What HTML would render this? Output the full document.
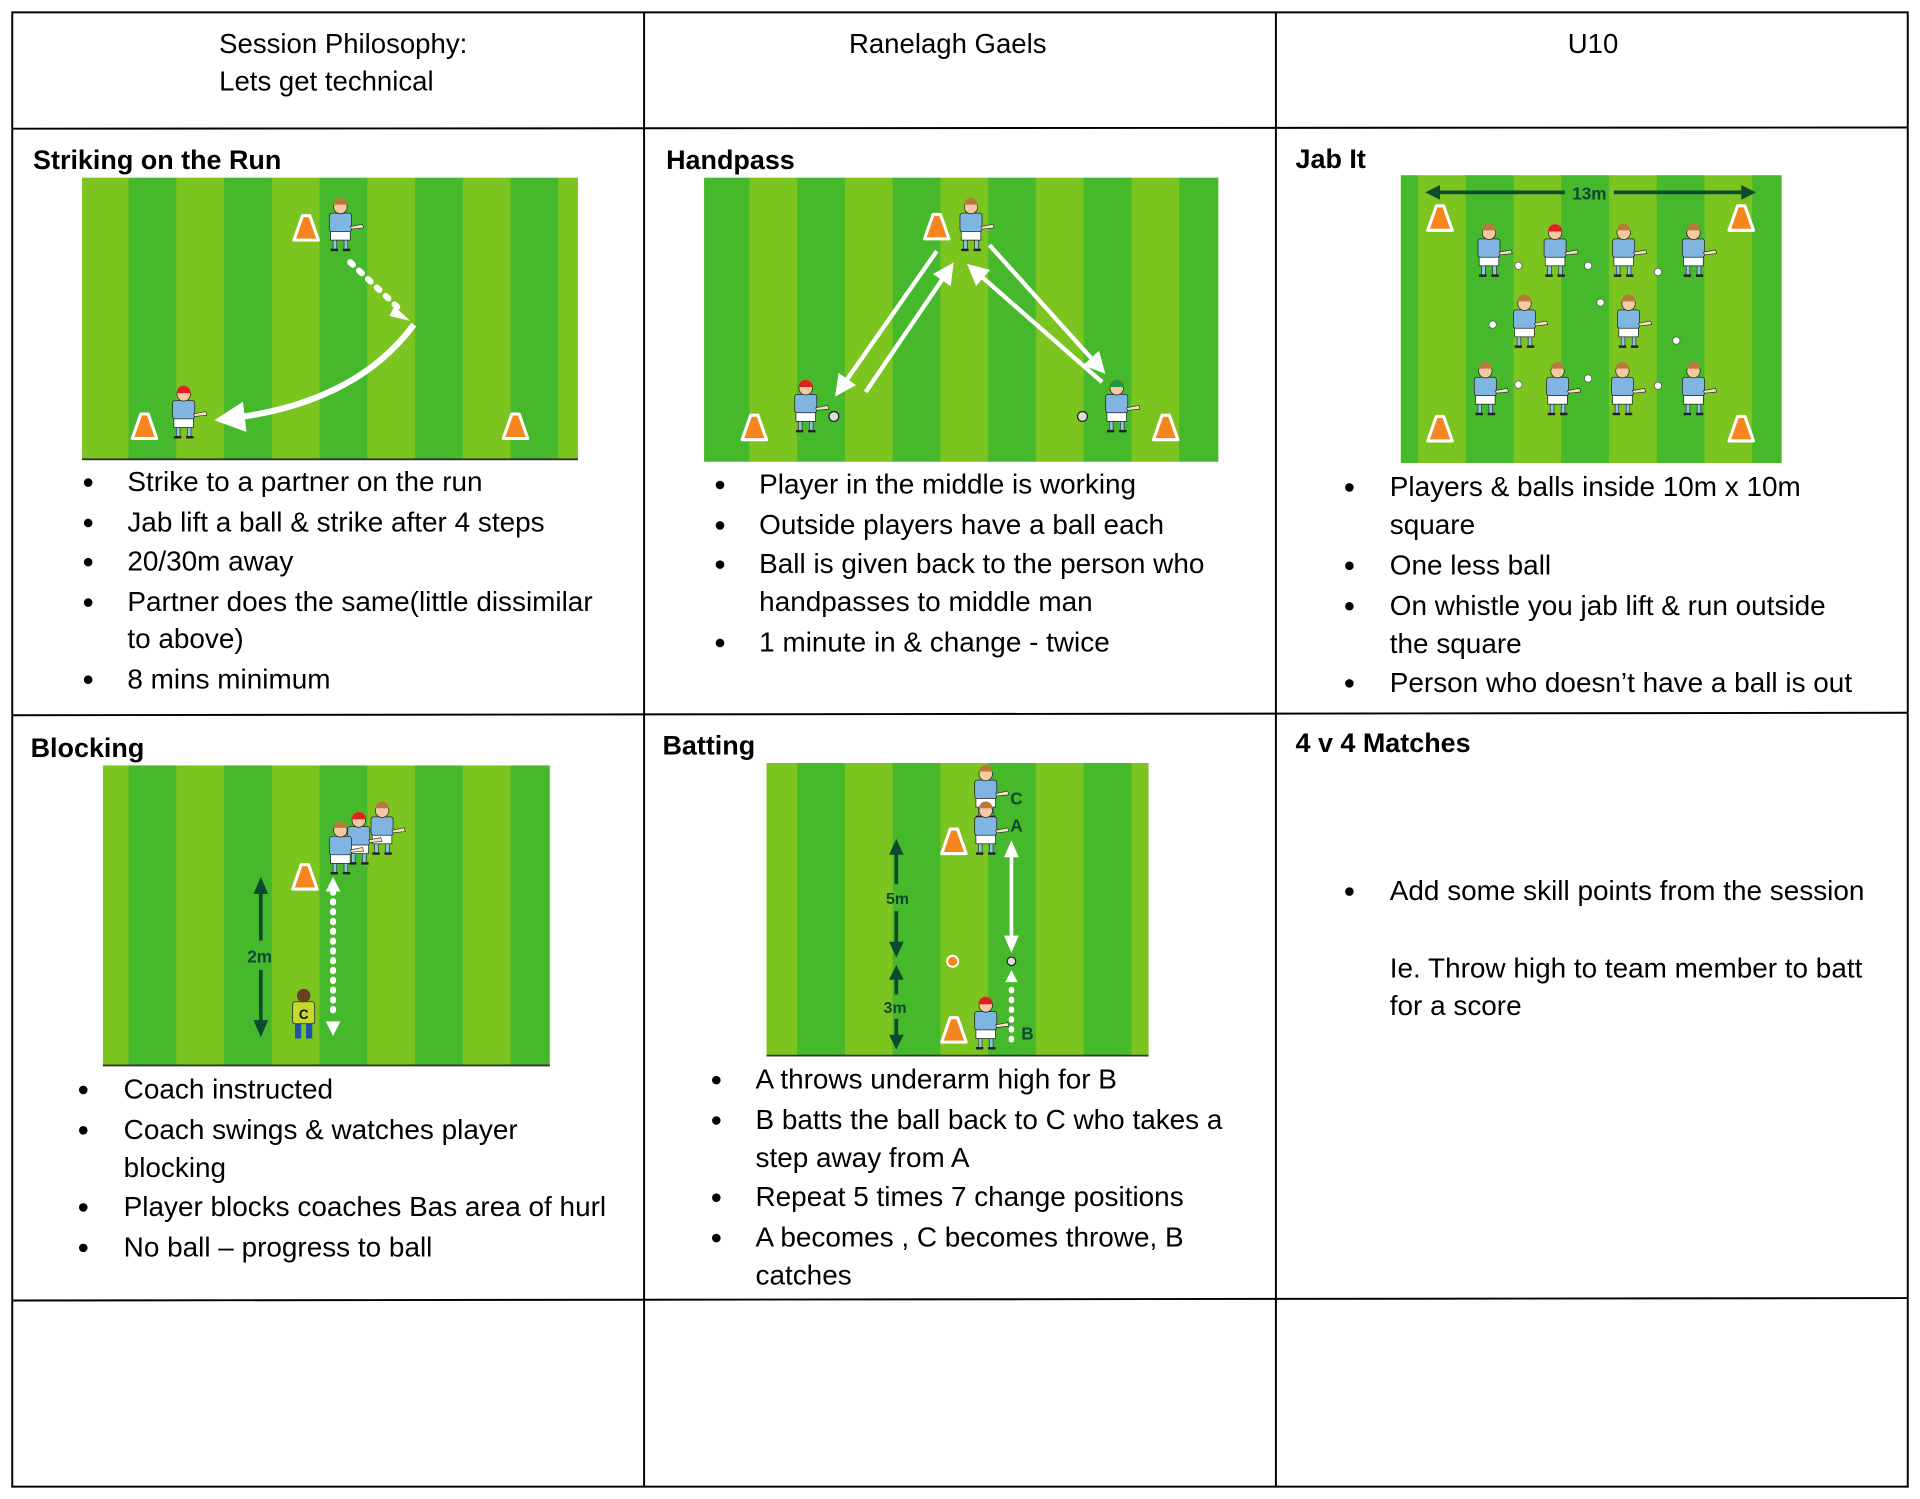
<!DOCTYPE html>
<html><head><meta charset="utf-8"><style>html,body{margin:0;padding:0;background:#fff}svg{display:block}</style></head>
<body>
<svg width="1920" height="1499" viewBox="0 0 1568 1224" xmlns="http://www.w3.org/2000/svg" font-family="Liberation Sans, sans-serif">
<defs>
<pattern id="st" width="78" height="10" patternUnits="userSpaceOnUse">
<rect width="78" height="10" fill="#7cc420"/><rect x="27" width="39" height="10" fill="#45b82b"/>
</pattern>
<g id="p">
<rect x="-6" y="-10" width="3" height="9" fill="#8fc3e6" stroke="#222" stroke-width="0.5"/>
<rect x="3" y="-10" width="3" height="9" fill="#8fc3e6" stroke="#222" stroke-width="0.5"/>
<rect x="-8" y="-2" width="6" height="2" fill="#222"/><rect x="2" y="-2" width="6" height="2" fill="#222"/>
<rect x="-8" y="-17" width="16" height="8" fill="#fff" stroke="#222" stroke-width="0.6"/>
<rect x="-9" y="-31" width="18" height="15" rx="2" fill="#7fb5e0" stroke="#222" stroke-width="0.6"/>
<circle cx="0" cy="-36" r="5.5" fill="#f2c9a0" stroke="#222" stroke-width="0.6"/>
<path d="M-5.5,-38 a5.5,5.5 0 0 1 11,0 z" fill="#b87a3a"/>
<path d="M8,-20 l10,-2 l1,3 l-10,1 z" fill="#f3e3c0" stroke="#222" stroke-width="0.5"/>
</g>
<g id="pr">
<use href="#p"/><path d="M-5.8,-37 a5.8,5.8 0 0 1 11.6,0 z" fill="#e02020"/>
</g>
<g id="pg">
<use href="#p"/><path d="M-5.8,-37 a5.8,5.8 0 0 1 11.6,0 z" fill="#1a9a40"/>
</g>
<g id="c"><polygon points="-10,0 10,0 3,-20 -3,-20" fill="#f5861f" stroke="#fff" stroke-width="2.5" stroke-linejoin="round"/></g>
<marker id="aw" markerWidth="5" markerHeight="5" refX="3" refY="2.5" orient="auto" markerUnits="strokeWidth"><path d="M0,0 L5,2.5 L0,5 z" fill="#fff"/></marker>
</defs>

<g stroke="#000" stroke-width="1.6" fill="none">
<rect x="10" y="10" width="1548" height="1204"/>
<line x1="526" y1="10" x2="526" y2="1214"/>
<line x1="1042" y1="10" x2="1042" y2="1214"/>
<line x1="10" y1="105" x2="1558" y2="104"/>
<line x1="10" y1="584" x2="1558" y2="582"/>
<line x1="10" y1="1062" x2="1558" y2="1060"/>
</g>

<g font-size="22.5" fill="#000">
<text x="179" y="43">Session Philosophy:</text>
<text x="179" y="74">Lets get technical</text>
<text x="774" y="43" text-anchor="middle">Ranelagh Gaels</text>
<text x="1301" y="43" text-anchor="middle">U10</text>
</g>
<g font-size="22" font-weight="bold">
<text x="27" y="138">Striking on the Run</text>
<text x="544" y="138">Handpass</text>
<text x="1058" y="137">Jab It</text>
<text x="25" y="618">Blocking</text>
<text x="541" y="616">Batting</text>
<text x="1058" y="614">4 v 4 Matches</text>
</g>

<rect x="67" y="145" width="405" height="230" fill="url(#st)"/>
<line x1="67" y1="375" x2="472" y2="375" stroke="#333" stroke-width="1.5"/>
<use href="#c" x="250" y="196"/><use href="#p" x="278" y="205"/>
<use href="#c" x="118" y="358"/><use href="#pr" x="150" y="358"/>
<use href="#c" x="421" y="358"/>
<line x1="286" y1="214" x2="328" y2="254" stroke="#fff" stroke-width="5" stroke-dasharray="3,7" stroke-linecap="round"/>
<path d="M322,250 L335,262 L318,258 z" fill="#fff"/>
<path d="M338,265 Q290,330 185,342" stroke="#fff" stroke-width="5" fill="none" marker-end="url(#aw)"/>

<rect x="575" y="145" width="420" height="232" fill="url(#st)"/>
<use href="#c" x="765" y="195"/><use href="#p" x="793" y="205"/>
<use href="#c" x="616" y="359"/><use href="#pr" x="658" y="353"/>
<use href="#c" x="952" y="359"/><use href="#pg" x="912" y="353"/>
<circle cx="681" cy="340" r="4" fill="#ddd" stroke="#222"/><circle cx="884" cy="340" r="4" fill="#ddd" stroke="#222"/>
<g stroke="#fff" stroke-width="3.5" fill="none">
<line x1="765" y1="205" x2="686" y2="318" marker-end="url(#aw)"/>
<line x1="707" y1="320" x2="775" y2="220" marker-end="url(#aw)"/>
<line x1="900" y1="312" x2="795" y2="220" marker-end="url(#aw)"/>
<line x1="808" y1="200" x2="898" y2="300" marker-end="url(#aw)"/>
</g>

<rect x="1144" y="143" width="311" height="235" fill="url(#st)"/>
<line x1="1175" y1="157" x2="1278" y2="157" stroke="#0d4a30" stroke-width="3"/>
<path d="M1164,157 L1176,151 L1176,163 z" fill="#0d4a30"/>
<line x1="1318" y1="157" x2="1422" y2="157" stroke="#0d4a30" stroke-width="3"/>
<path d="M1434,157 L1422,151 L1422,163 z" fill="#0d4a30"/>
<text x="1298" y="163" font-size="14" font-weight="bold" fill="#0d4a30" text-anchor="middle">13m</text>
<use href="#c" x="1176" y="188"/><use href="#c" x="1422" y="188"/><use href="#c" x="1176" y="360"/><use href="#c" x="1422" y="360"/>
<use href="#p" x="1216" y="226"/><use href="#pr" x="1270" y="226"/><use href="#p" x="1326" y="226"/><use href="#p" x="1383" y="226"/>
<use href="#p" x="1245" y="284"/><use href="#p" x="1330" y="284"/>
<use href="#p" x="1213" y="339"/><use href="#p" x="1272" y="339"/><use href="#p" x="1325" y="339"/><use href="#p" x="1383" y="339"/>
<g fill="#fff" stroke="#555" stroke-width="0.6">
<circle cx="1240" cy="217" r="3"/><circle cx="1297" cy="217" r="3"/><circle cx="1354" cy="222" r="3"/>
<circle cx="1219" cy="265" r="3"/><circle cx="1307" cy="247" r="3"/><circle cx="1369" cy="278" r="3"/>
<circle cx="1240" cy="314" r="3"/><circle cx="1297" cy="309" r="3"/><circle cx="1354" cy="315" r="3"/>
</g>

<rect x="84" y="625" width="365" height="245" fill="url(#st)"/>
<line x1="84" y1="870" x2="449" y2="870" stroke="#333" stroke-width="1.5"/>
<use href="#c" x="249" y="726"/>
<use href="#p" x="312" y="698"/><use href="#pr" x="293" y="706"/><use href="#p" x="278" y="714"/>
<line x1="272" y1="728" x2="272" y2="832" stroke="#fff" stroke-width="5" stroke-dasharray="1,7" stroke-linecap="round"/>
<path d="M272,716 L266,728 L278,728 z M272,846 L266,834 L278,834 z" fill="#fff"/>
<line x1="213" y1="728" x2="213" y2="768" stroke="#0d4a30" stroke-width="3"/>
<line x1="213" y1="792" x2="213" y2="835" stroke="#0d4a30" stroke-width="3"/>
<path d="M213,716 L207,730 L219,730 z M213,847 L207,833 L219,833 z" fill="#0d4a30"/>
<text x="212" y="786" font-size="14" font-weight="bold" fill="#0d4a30" text-anchor="middle">2m</text>
<g transform="translate(248,849)">
<rect x="-7" y="-14" width="5" height="13" fill="#1f4fb0"/><rect x="2" y="-14" width="5" height="13" fill="#1f4fb0"/>
<rect x="-9" y="-31" width="18" height="18" rx="2" fill="#c6d92a" stroke="#222" stroke-width="0.6"/>
<circle cx="0" cy="-36" r="5.5" fill="#6b3f20"/>
<text x="0" y="-17" font-size="11" font-weight="bold" text-anchor="middle" fill="#111">C</text>
</g>

<rect x="626" y="623" width="312" height="239" fill="url(#st)"/>
<line x1="626" y1="862" x2="938" y2="862" stroke="#333" stroke-width="1.5"/>
<use href="#p" x="805" y="668"/><use href="#p" x="805" y="698"/>
<use href="#c" x="779" y="697"/>
<text x="825" y="657" font-size="14" font-weight="bold" fill="#0d4a30">C</text>
<text x="825" y="679" font-size="14" font-weight="bold" fill="#0d4a30">A</text>
<line x1="826" y1="698" x2="826" y2="766" stroke="#fff" stroke-width="3"/>
<path d="M826,686 L820,700 L832,700 z M826,778 L820,764 L832,764 z" fill="#fff"/>
<circle cx="826" cy="785" r="3.5" fill="#ddd" stroke="#222"/>
<circle cx="778" cy="785" r="4.5" fill="#f5861f" stroke="#fff" stroke-width="1.5"/>
<path d="M826,792 L821,802 L831,802 z" fill="#fff"/>
<line x1="826" y1="808" x2="826" y2="855" stroke="#fff" stroke-width="4.5" stroke-dasharray="1,7" stroke-linecap="round"/>
<use href="#c" x="779" y="851"/><use href="#pr" x="805" y="857"/>
<text x="834" y="849" font-size="14" font-weight="bold" fill="#0d4a30">B</text>
<line x1="732" y1="696" x2="732" y2="722" stroke="#0d4a30" stroke-width="3"/>
<line x1="732" y1="744" x2="732" y2="772" stroke="#0d4a30" stroke-width="3"/>
<path d="M732,685 L726,698 L738,698 z M732,782 L726,769 L738,769 z" fill="#0d4a30"/>
<text x="733" y="738" font-size="13" font-weight="bold" fill="#0d4a30" text-anchor="middle">5m</text>
<line x1="732" y1="797" x2="732" y2="812" stroke="#0d4a30" stroke-width="3"/>
<line x1="732" y1="832" x2="732" y2="848" stroke="#0d4a30" stroke-width="3"/>
<path d="M732,788 L726,800 L738,800 z M732,857 L726,845 L738,845 z" fill="#0d4a30"/>
<text x="731" y="827" font-size="13" font-weight="bold" fill="#0d4a30" text-anchor="middle">3m</text>

<g font-size="22.8" fill="#000">
<g><circle cx="72" cy="394" r="3.5"/><circle cx="72" cy="427" r="3.5"/><circle cx="72" cy="459" r="3.5"/><circle cx="72" cy="492" r="3.5"/><circle cx="72" cy="555" r="3.5"/></g>
<text x="104" y="401">Strike to a partner on the run</text>
<text x="104" y="434">Jab lift a ball &amp; strike after 4 steps</text>
<text x="104" y="466">20/30m away</text>
<text x="104" y="499">Partner does the same(little dissimilar</text>
<text x="104" y="529">to above)</text>
<text x="104" y="562">8 mins minimum</text>

<g><circle cx="588" cy="396" r="3.5"/><circle cx="588" cy="429" r="3.5"/><circle cx="588" cy="461" r="3.5"/><circle cx="588" cy="525" r="3.5"/></g>
<text x="620" y="403">Player in the middle is working</text>
<text x="620" y="436">Outside players have a ball each</text>
<text x="620" y="468">Ball is given back to the person who</text>
<text x="620" y="499">handpasses to middle man</text>
<text x="620" y="532">1 minute in &amp; change - twice</text>

<g><circle cx="1102" cy="398" r="3.5"/><circle cx="1102" cy="462" r="3.5"/><circle cx="1102" cy="495" r="3.5"/><circle cx="1102" cy="558" r="3.5"/></g>
<text x="1135" y="405">Players &amp; balls inside 10m x 10m</text>
<text x="1135" y="436">square</text>
<text x="1135" y="469">One less ball</text>
<text x="1135" y="502">On whistle you jab lift &amp; run outside</text>
<text x="1135" y="533">the square</text>
<text x="1135" y="565">Person who doesn’t have a ball is out</text>

<g><circle cx="68" cy="890" r="3.5"/><circle cx="68" cy="923" r="3.5"/><circle cx="68" cy="986" r="3.5"/><circle cx="68" cy="1019" r="3.5"/></g>
<text x="101" y="897">Coach instructed</text>
<text x="101" y="930">Coach swings &amp; watches player</text>
<text x="101" y="961">blocking</text>
<text x="101" y="993">Player blocks coaches Bas area of hurl</text>
<text x="101" y="1026">No ball – progress to ball</text>

<g><circle cx="585" cy="882" r="3.5"/><circle cx="585" cy="915" r="3.5"/><circle cx="585" cy="978" r="3.5"/><circle cx="585" cy="1011" r="3.5"/></g>
<text x="617" y="889">A throws underarm high for B</text>
<text x="617" y="922">B batts the ball back to C who takes a</text>
<text x="617" y="953">step away from A</text>
<text x="617" y="985">Repeat 5 times 7 change positions</text>
<text x="617" y="1018">A becomes , C becomes throwe, B</text>
<text x="617" y="1049">catches</text>

<circle cx="1102" cy="728" r="3.5"/>
<text x="1135" y="735">Add some skill points from the session</text>
<text x="1135" y="798">Ie. Throw high to team member to batt</text>
<text x="1135" y="829">for a score</text>
</g>
</svg>
</body></html>
